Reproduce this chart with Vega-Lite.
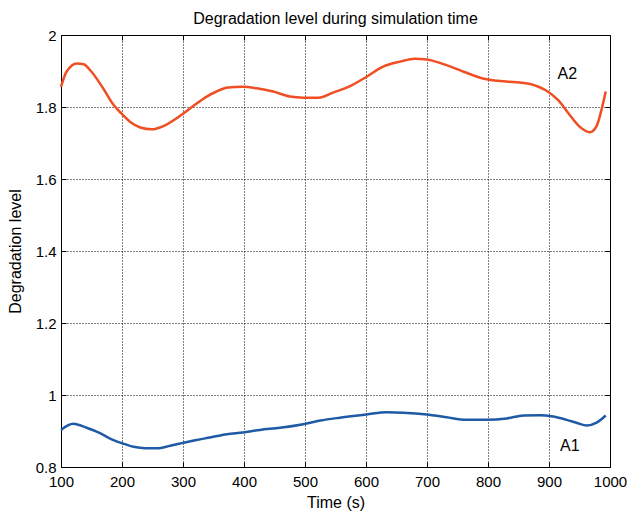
{
  "$schema": "https://vega.github.io/schema/vega-lite/v6.json",
  "width": 549,
  "height": 432,
  "autosize": "none",
  "padding": {"left": 61, "top": 35, "right": 19, "bottom": 46},
  "background": "white",
  "title": {"text": "Degradation level during simulation time", "font": "Liberation Sans", "fontSize": 16, "fontWeight": "normal", "color": "black", "offset": 1, "anchor": "middle"},
  "config": {
    "view": {"stroke": "black", "strokeWidth": 1},
    "axis": {"domainColor": "black", "tickColor": "black", "labelColor": "black", "titleColor": "black", "labelFont": "Liberation Sans", "titleFont": "Liberation Sans", "labelFontSize": 15, "titleFontSize": 16, "titleFontWeight": "normal", "gridColor": "black", "gridDash": [1, 2], "gridOpacity": 1, "gridWidth": 1, "tickSize": -5, "tickWidth": 1}
  },
  "data": {"values": [
    {"t": 100, "v": 1.856, "s": "A2"}, {"t": 109, "v": 1.898, "s": "A2"}, {"t": 126, "v": 1.921, "s": "A2"}, {"t": 137, "v": 1.919, "s": "A2"}, {"t": 150, "v": 1.898, "s": "A2"}, {"t": 169, "v": 1.852, "s": "A2"}, {"t": 186, "v": 1.806, "s": "A2"}, {"t": 199, "v": 1.782, "s": "A2"}, {"t": 213, "v": 1.759, "s": "A2"}, {"t": 230, "v": 1.743, "s": "A2"}, {"t": 249, "v": 1.738, "s": "A2"}, {"t": 268, "v": 1.747, "s": "A2"}, {"t": 290, "v": 1.769, "s": "A2"}, {"t": 300, "v": 1.781, "s": "A2"}, {"t": 317, "v": 1.803, "s": "A2"}, {"t": 339, "v": 1.829, "s": "A2"}, {"t": 355, "v": 1.843, "s": "A2"}, {"t": 374, "v": 1.854, "s": "A2"}, {"t": 396, "v": 1.856, "s": "A2"}, {"t": 421, "v": 1.852, "s": "A2"}, {"t": 448, "v": 1.843, "s": "A2"}, {"t": 475, "v": 1.829, "s": "A2"}, {"t": 497, "v": 1.826, "s": "A2"}, {"t": 522, "v": 1.826, "s": "A2"}, {"t": 546, "v": 1.840, "s": "A2"}, {"t": 574, "v": 1.858, "s": "A2"}, {"t": 601, "v": 1.884, "s": "A2"}, {"t": 628, "v": 1.912, "s": "A2"}, {"t": 656, "v": 1.926, "s": "A2"}, {"t": 680, "v": 1.934, "s": "A2"}, {"t": 700, "v": 1.932, "s": "A2"}, {"t": 727, "v": 1.919, "s": "A2"}, {"t": 760, "v": 1.898, "s": "A2"}, {"t": 790, "v": 1.880, "s": "A2"}, {"t": 820, "v": 1.872, "s": "A2"}, {"t": 847, "v": 1.869, "s": "A2"}, {"t": 869, "v": 1.864, "s": "A2"}, {"t": 896, "v": 1.845, "s": "A2"}, {"t": 915, "v": 1.819, "s": "A2"}, {"t": 934, "v": 1.778, "s": "A2"}, {"t": 951, "v": 1.744, "s": "A2"}, {"t": 967, "v": 1.730, "s": "A2"}, {"t": 978, "v": 1.747, "s": "A2"}, {"t": 986, "v": 1.792, "s": "A2"}, {"t": 993, "v": 1.843, "s": "A2"},
    {"t": 100, "v": 0.903, "s": "A1"}, {"t": 120, "v": 0.920, "s": "A1"}, {"t": 142, "v": 0.909, "s": "A1"}, {"t": 164, "v": 0.894, "s": "A1"}, {"t": 183, "v": 0.877, "s": "A1"}, {"t": 200, "v": 0.866, "s": "A1"}, {"t": 219, "v": 0.856, "s": "A1"}, {"t": 238, "v": 0.852, "s": "A1"}, {"t": 257, "v": 0.852, "s": "A1"}, {"t": 279, "v": 0.859, "s": "A1"}, {"t": 300, "v": 0.867, "s": "A1"}, {"t": 322, "v": 0.875, "s": "A1"}, {"t": 344, "v": 0.882, "s": "A1"}, {"t": 372, "v": 0.891, "s": "A1"}, {"t": 398, "v": 0.896, "s": "A1"}, {"t": 426, "v": 0.903, "s": "A1"}, {"t": 459, "v": 0.909, "s": "A1"}, {"t": 497, "v": 0.919, "s": "A1"}, {"t": 525, "v": 0.929, "s": "A1"}, {"t": 557, "v": 0.937, "s": "A1"}, {"t": 601, "v": 0.946, "s": "A1"}, {"t": 634, "v": 0.952, "s": "A1"}, {"t": 661, "v": 0.951, "s": "A1"}, {"t": 700, "v": 0.946, "s": "A1"}, {"t": 732, "v": 0.938, "s": "A1"}, {"t": 765, "v": 0.931, "s": "A1"}, {"t": 798, "v": 0.931, "s": "A1"}, {"t": 831, "v": 0.935, "s": "A1"}, {"t": 858, "v": 0.943, "s": "A1"}, {"t": 885, "v": 0.944, "s": "A1"}, {"t": 907, "v": 0.940, "s": "A1"}, {"t": 929, "v": 0.931, "s": "A1"}, {"t": 945, "v": 0.923, "s": "A1"}, {"t": 962, "v": 0.915, "s": "A1"}, {"t": 978, "v": 0.923, "s": "A1"}, {"t": 993, "v": 0.943, "s": "A1"}
  ]},
  "layer": [
    {
      "mark": {"type": "line", "strokeWidth": 2.5, "interpolate": "monotone"},
      "encoding": {
        "x": {"field": "t", "type": "quantitative", "scale": {"domain": [100, 1000], "nice": false}, "axis": {"title": "Time (s)", "values": [100, 200, 300, 400, 500, 600, 700, 800, 900, 1000], "format": "d", "labelPadding": 12, "titlePadding": 5, "labelFlush": false}},
        "y": {"field": "v", "type": "quantitative", "scale": {"domain": [0.8, 2], "nice": false, "zero": false}, "axis": {"title": "Degradation level", "values": [0.8, 1, 1.2, 1.4, 1.6, 1.8, 2], "format": "~g", "labelPadding": 10, "titlePadding": 12, "labelFlush": false}},
        "color": {"field": "s", "type": "nominal", "scale": {"domain": ["A1", "A2"], "range": ["#1f5aa6", "#f04e23"]}, "legend": null}
      }
    },
    {
      "data": {"values": [{"t": 930, "v": 1.892, "label": "A2"}, {"t": 934, "v": 0.858, "label": "A1"}]},
      "mark": {"type": "text", "font": "Liberation Sans", "fontSize": 16, "color": "black", "align": "center", "baseline": "middle"},
      "encoding": {
        "x": {"field": "t", "type": "quantitative", "axis": null},
        "y": {"field": "v", "type": "quantitative", "axis": null},
        "text": {"field": "label"}
      }
    },
    {
      "data": {"values": [{"t": 100, "v": 0.8}]},
      "mark": {"type": "point", "opacity": 0},
      "encoding": {
        "x": {"field": "t", "type": "quantitative", "axis": {"orient": "top", "labels": false, "title": null, "grid": false, "domain": false, "values": [100, 200, 300, 400, 500, 600, 700, 800, 900, 1000]}},
        "y": {"field": "v", "type": "quantitative", "axis": {"orient": "right", "labels": false, "title": null, "grid": false, "domain": false, "values": [0.8, 1, 1.2, 1.4, 1.6, 1.8, 2]}}
      }
    }
  ],
  "resolve": {"axis": {"x": "independent", "y": "independent"}}
}
